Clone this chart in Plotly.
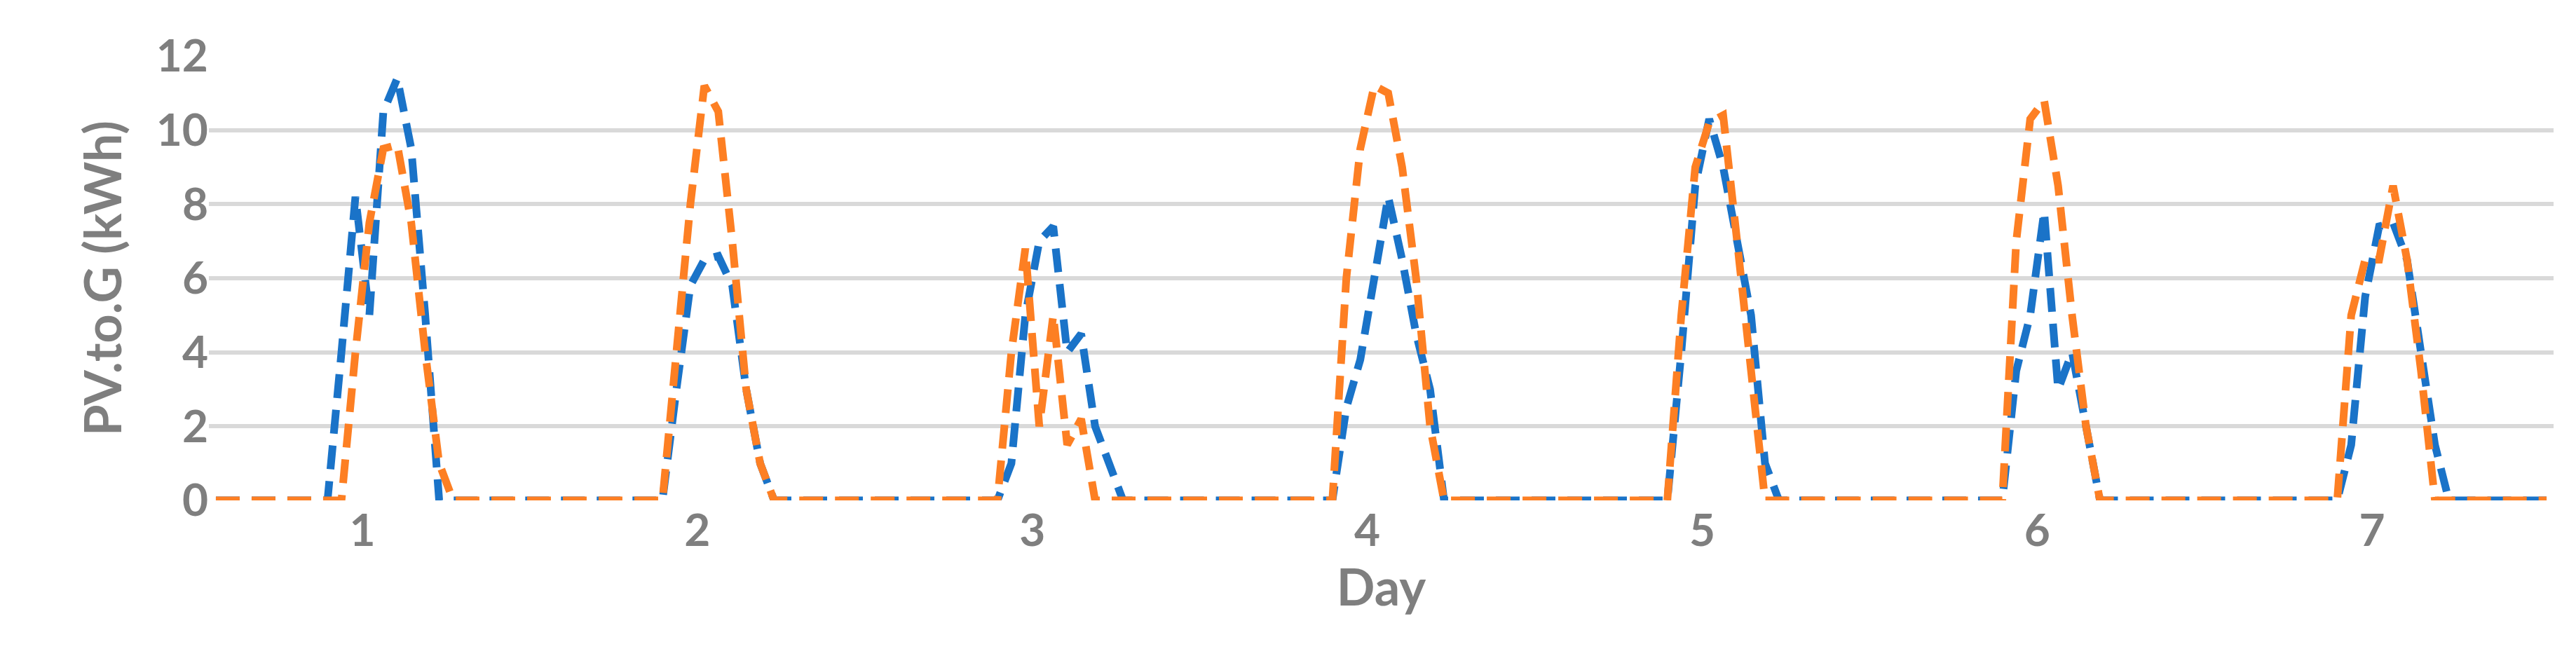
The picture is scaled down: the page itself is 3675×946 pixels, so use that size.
import plotly.graph_objects as go

# hourly PV-to-grid energy (kWh), 24 values per day, 7 days
blue_days = [
    [0, 0, 0, 0, 0, 0, 0, 0, 0, 4, 8.2, 5, 10.5, 11.4, 9.5, 5, 0, 0, 0, 0, 0, 0, 0, 0],
    [0, 0, 0, 0, 0, 0, 0, 0, 0, 3, 5.8, 6.5, 6.6, 5.8, 3, 1, 0, 0, 0, 0, 0, 0, 0, 0],
    [0, 0, 0, 0, 0, 0, 0, 0, 0, 1, 5, 7, 7.4, 4, 4.5, 2, 1, 0, 0, 0, 0, 0, 0, 0],
    [0, 0, 0, 0, 0, 0, 0, 0, 0, 2.5, 3.8, 6, 8.2, 6.5, 4.5, 3, 0, 0, 0, 0, 0, 0, 0, 0],
    [0, 0, 0, 0, 0, 0, 0, 0, 0, 4, 8.5, 10.3, 9, 7, 5, 1, 0, 0, 0, 0, 0, 0, 0, 0],
    [0, 0, 0, 0, 0, 0, 0, 0, 0, 3.5, 5, 7.8, 3, 4, 2, 0, 0, 0, 0, 0, 0, 0, 0, 0],
    [0, 0, 0, 0, 0, 0, 0, 0, 0, 1.5, 5.5, 7.4, 7.5, 6.5, 4, 1.5, 0, 0, 0, 0, 0, 0, 0, 0],
]
orange_days = [
    [0, 0, 0, 0, 0, 0, 0, 0, 0, 0, 4, 7.5, 9.5, 9.6, 7.5, 4, 1, 0, 0, 0, 0, 0, 0, 0],
    [0, 0, 0, 0, 0, 0, 0, 0, 0, 4, 8, 11.2, 10.5, 7, 3, 1, 0, 0, 0, 0, 0, 0, 0, 0],
    [0, 0, 0, 0, 0, 0, 0, 0, 0, 4, 6.8, 2, 5, 1.5, 2.2, 0, 0, 0, 0, 0, 0, 0, 0, 0],
    [0, 0, 0, 0, 0, 0, 0, 0, 0, 6, 9.5, 11.2, 11, 9, 6, 2, 0, 0, 0, 0, 0, 0, 0, 0],
    [0, 0, 0, 0, 0, 0, 0, 0, 0, 5, 9, 10.2, 10.4, 7, 3.5, 0, 0, 0, 0, 0, 0, 0, 0, 0],
    [0, 0, 0, 0, 0, 0, 0, 0, 0, 7, 10.3, 10.8, 8.5, 5, 2, 0, 0, 0, 0, 0, 0, 0, 0, 0],
    [0, 0, 0, 0, 0, 0, 0, 0, 0, 5, 6.5, 6.5, 8.5, 6.5, 3.5, 0, 0, 0, 0, 0, 0, 0, 0, 0],
]
day_labels = ["1", "2", "3", "4", "5", "6", "7"]

blue = [v for d in blue_days for v in d]
orange = [v for d in orange_days for v in d]
hours = list(range(1, len(blue) + 1))

fig = go.Figure()
fig.add_trace(go.Scatter(x=hours, y=blue, mode="lines",
                         line=dict(color="#1a73c8", width=11, dash="34px,17px")))
fig.add_trace(go.Scatter(x=hours, y=orange, mode="lines",
                         line=dict(color="#fd7f23", width=11, dash="34px,17px")))

font = dict(family="Lato, Open Sans, sans-serif", color="#7f7f7f")
fig.update_layout(
    width=3675, height=946,
    plot_bgcolor="white", paper_bgcolor="white",
    showlegend=False,
    margin=dict(l=290, r=40, t=72, b=240),
    font=dict(size=64, **font),
)
fig.update_xaxes(
    range=[0.5, 168.5],
    tickvals=[11.5 + 24 * i for i in range(7)],
    ticktext=day_labels,
    showgrid=False, zeroline=False, ticks="",
    tickfont=dict(size=64, family="Lato", color="#7f7f7f", weight="bold"),
    title=dict(text="<b>Day</b>", font=dict(size=72), standoff=0),
)
fig.update_yaxes(
    range=[0, 12], dtick=2,
    showgrid=True, gridcolor="#d9d9d9", gridwidth=6,
    zeroline=False, ticks="",
    tickfont=dict(size=64, family="Lato", color="#7f7f7f", weight="bold"),
    title=dict(text="<b>PV.to.G (kWh)</b>", font=dict(size=72), standoff=25),
)

fig.write_html("out.html")
